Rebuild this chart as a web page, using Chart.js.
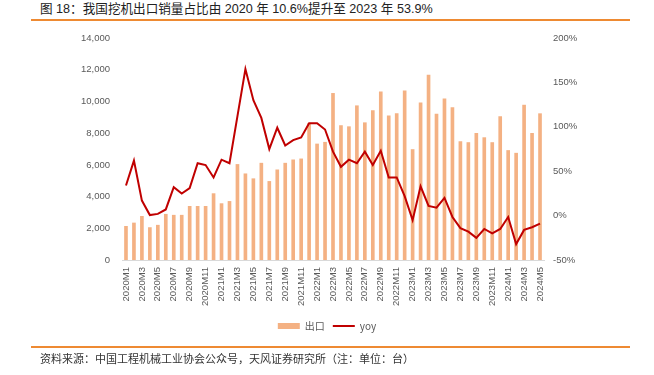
<!DOCTYPE html>
<html>
<head>
<meta charset="utf-8">
<script src="https://cdn.jsdelivr.net/npm/chart.js@4"></script>
<style>
  html, body { margin: 0; padding: 0; background: #fff; }
  body { width: 654px; height: 375px; position: relative; overflow: hidden;
         font-family: 'Liberation Sans', 'Noto Sans CJK SC', sans-serif; }
  #title { position: absolute; left: 40px; top: -2px; font-size: 12.6px; color: #222;
           font-family: 'Liberation Sans', 'Noto Sans CJK SC', sans-serif; white-space: nowrap; }
  .rule { position: absolute; left: 31px; width: 599px; height: 1.5px; background: #EE8A32; }
  #source { position: absolute; left: 40px; top: 350px; font-size: 11px; color: #333;
            font-family: 'Noto Sans CJK SC', sans-serif; white-space: nowrap; }
  #wrap { position: absolute; left: 0; top: 0; width: 654px; height: 375px; }
</style>
</head>
<body>
<div id="title">图 18：我国挖机出口销量占比由 2020 年 10.6%提升至 2023 年 53.9%</div>
<div class="rule" style="top:19px"></div>
<div id="wrap"><canvas id="exportChart"></canvas></div>
<div class="rule" style="top:346px"></div>
<div id="source">资料来源：中国工程机械工业协会公众号，天风证券研究所（注：单位：台）</div>

<script>
// 月份
const months = [
    '2020M1', '2020M2', '2020M3', '2020M4', '2020M5', '2020M6', '2020M7', '2020M8', '2020M9', '2020M10', '2020M11', '2020M12',
    '2021M1', '2021M2', '2021M3', '2021M4', '2021M5', '2021M6', '2021M7', '2021M8', '2021M9', '2021M10', '2021M11', '2021M12',
    '2022M1', '2022M2', '2022M3', '2022M4', '2022M5', '2022M6', '2022M7', '2022M8', '2022M9', '2022M10', '2022M11', '2022M12',
    '2023M1', '2023M2', '2023M3', '2023M4', '2023M5', '2023M6', '2023M7', '2023M8', '2023M9', '2023M10', '2023M11', '2023M12',
    '2024M1', '2024M2', '2024M3', '2024M4', '2024M5'
];

// 出口销量（台）
const exportUnits = [
    2130, 2340, 2760, 2050, 2200, 2890, 2830, 2830, 3390, 3390, 3390, 4190,
    3560, 3700, 6030, 5440, 5130, 6110, 4960, 5690, 6110, 6320, 6380, 8620,
    7320, 7430, 10510, 8480, 8410, 9730, 8660, 9420, 10610, 9100, 9230, 10670,
    6970, 9920, 11660, 9210, 10170, 9610, 7470, 7410, 7990, 7720, 7410, 9040,
    6910, 6740, 9770, 7990, 9230
];

// 同比（%）
const yoyPct = [
    34, 62, 17, 0.7, 2, 7, 32, 25, 31, 59, 57, 43,
    63, 59, 112, 165, 130, 110, 75, 99, 79, 85, 88, 104,
    104, 97, 72, 55, 63, 59, 72, 57, 73, 43, 43, 22,
    -5, 33, 11, 9, 20, -1.5, -14, -18, -25, -15, -20, -15,
    -1.5, -32, -16, -13, -9
];

const leftTicks = { min: 0, max: 14000, step: 2000 };
const rightTicks = { min: -50, max: 200, step: 50 };

const tickFont = { family: "'Liberation Sans', 'Noto Sans CJK SC', sans-serif", size: 9.5 };

new Chart(document.getElementById('exportChart'), {
    type: 'bar',
    data: {
        labels: months,
        datasets: [{
            label: '出口',
            data: exportUnits,
            backgroundColor: '#F4B183',
            borderWidth: 0,
            barThickness: 3,
            yAxisID: 'y',
            order: 2
        }, {
            type: 'line',
            label: 'yoy',
            data: yoyPct,
            borderColor: '#C00000',
            backgroundColor: '#C00000',
            borderWidth: 2,
            pointRadius: 0,
            tension: 0,
            yAxisID: 'y1',
            order: 1
        }]
    },
    options: {
        responsive: true,
        maintainAspectRatio: false,
        animation: false,
        layout: { padding: { top: 38, left: 0, right: 0, bottom: 34 } },
        plugins: {
            tooltip: { enabled: false },
            legend: {
                position: 'bottom',
                labels: {
                    usePointStyle: true,
                    pointStyleWidth: 22,
                    boxHeight: 6,
                    padding: 8,
                    color: '#595959',
                    font: { family: "'Noto Sans CJK SC', 'Liberation Sans', sans-serif", size: 10 },
                    sort: (a, b) => a.datasetIndex - b.datasetIndex,
                    generateLabels: chart => Chart.defaults.plugins.legend.labels.generateLabels(chart).map(item =>
                        Object.assign(item, item.datasetIndex === 0
                            ? { pointStyle: 'rect', lineWidth: 0, strokeStyle: 'rgba(0,0,0,0)', fillStyle: '#F4B183' }
                            : { pointStyle: 'line', lineWidth: 2, strokeStyle: '#C00000' }))
                }
            }
        },
        scales: {
            x: {
                grid: { display: false, drawTicks: false },
                border: { display: true, color: '#D9D9D9' },
                ticks: {
                    autoSkip: false,
                    minRotation: 90,
                    maxRotation: 90,
                    padding: 7,
                    color: '#595959',
                    font: tickFont,
                    callback: function (value, index) {
                        return index % 2 === 0 ? this.getLabelForValue(value) : '';
                    }
                }
            },
            y: {
                position: 'left',
                min: leftTicks.min,
                max: leftTicks.max,
                grid: { display: false, drawTicks: false },
                border: { display: false },
                ticks: {
                    stepSize: leftTicks.step,
                    padding: 12,
                    color: '#595959',
                    font: tickFont,
                    callback: v => v.toLocaleString('en-US')
                },
                afterFit: scale => { scale.width = 122; }
            },
            y1: {
                position: 'right',
                min: rightTicks.min,
                max: rightTicks.max,
                grid: { display: false, drawTicks: false },
                border: { display: false },
                ticks: {
                    stepSize: rightTicks.step,
                    padding: 9,
                    color: '#595959',
                    font: tickFont,
                    callback: v => v + '%'
                },
                afterFit: scale => { scale.width = 110; }
            }
        }
    }
});
</script>
</body>
</html>
